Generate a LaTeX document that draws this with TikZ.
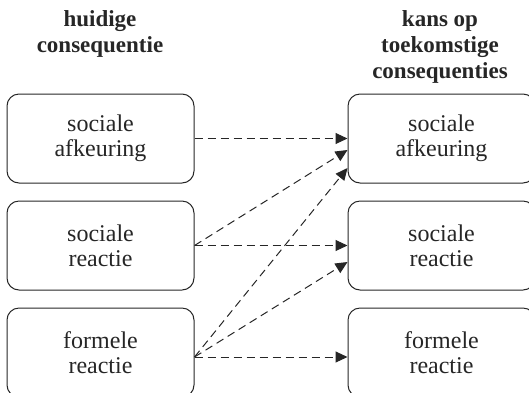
\documentclass[tikz,border=0pt]{standalone}
\usepackage{fontspec}
\setmainfont{Liberation Serif}
\usetikzlibrary{arrows.meta}
\definecolor{ink}{HTML}{262626}
\begin{document}
\begin{tikzpicture}[x=0.5pt, y=-0.5pt,
    box/.style={draw=ink, text=ink, line width=0.5pt, rounded corners=6pt, minimum width=93.5pt, minimum height=44.5pt, align=center, font=\fontsize{12}{12.5}\selectfont},
    head/.style={text=ink, align=center, font=\fontsize{11.5}{13}\selectfont\bfseries},
    link/.style={draw=ink, dashed, dash pattern=on 4pt off 2.5pt, line width=0.5pt, -{Triangle[length=6pt, width=5.5pt]}}]
    \clip (0,0) rectangle (529,392);
    \node[head] (hl) at (100, 34) {huidige\\consequentie};
    \node[head] (hr) at (440, 47) {kans op\\toekomstige\\consequenties};
    \node[box] (l1) at (100.5, 138.5) {sociale\\afkeuring};
    \node[box] (l2) at (100.5, 245.5) {sociale\\reactie};
    \node[box] (l3) at (100.5, 352.5) {formele\\reactie};
    \node[box] (r1) at (441.5, 138.5) {sociale\\afkeuring};
    \node[box] (r2) at (441.5, 245.5) {sociale\\reactie};
    \node[box] (r3) at (441.5, 352.5) {formele\\reactie};
    \draw[link] (l1.east) -- (r1.west);
    \draw[link] (l2.east) -- ([yshift=-5.75pt]r1.west);
    \draw[link] (l2.east) -- (r2.west);
    \draw[link] ([yshift=-2.25pt]l3.east) -- ([yshift=-14.75pt]r1.west);
    \draw[link] ([yshift=-2.25pt]l3.east) -- ([yshift=-8.25pt]r2.west);
    \draw[link] ([yshift=-2.25pt]l3.east) -- ([yshift=-2.25pt]r3.west);
\end{tikzpicture}
\end{document}
